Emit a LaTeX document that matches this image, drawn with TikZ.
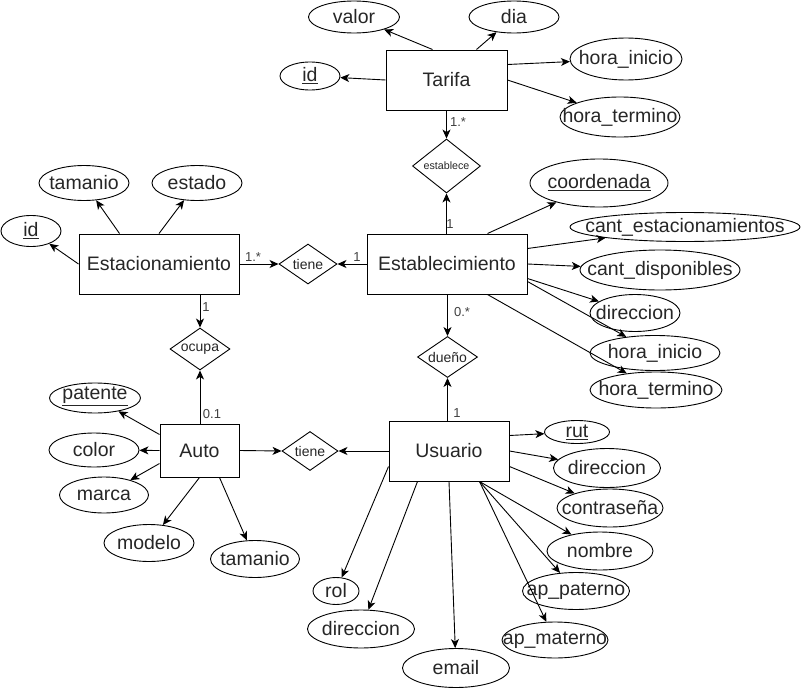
\documentclass[tikz,border=0pt]{standalone}
\usepackage{fontspec}
\setmainfont{Liberation Sans}
\usetikzlibrary{shapes.geometric,arrows.meta,calc}
\newcommand\attrnode[5]{%
  \node[attr, minimum width=#4, minimum height=#5] (#1) at (#2) {};
  \node[atext] at (#1.center) {#3};}
\newcommand\relnode[5]{%
  \node[rel, minimum width=#4, minimum height=#5] (#1) at (#2) {};
  \node[rtext] at (#1.center) {#3};}
\begin{document}
\begin{tikzpicture}[x=1pt,y=-1pt,
  ent/.style={draw, line width=1pt, rectangle, inner sep=0pt, font=\fontsize{19.5}{22}\selectfont, text=black!85},
  attr/.style={draw, line width=0.9pt, ellipse, inner sep=0pt},
  atext/.style={inner sep=0pt, font=\fontsize{19.5}{22}\selectfont, text=black!85},
  rel/.style={draw, line width=0.9pt, diamond, inner sep=0pt},
  rtext/.style={inner sep=0pt, font=\fontsize{14}{16}\selectfont, text=black!85},
  arr/.style={-{Stealth[length=9pt,width=8pt,inset=2.5pt]}, line width=0.9pt},
  card/.style={inner sep=0pt, font=\fontsize{13}{15}\selectfont, text=black!75}
]
\useasboundingbox (0,0) rectangle (801,688);

% entities
\node[ent, minimum width=121pt, minimum height=60pt] (tarifa) at (446.5,80) {Tarifa};
\node[ent, minimum width=160pt, minimum height=60pt] (estab) at (447,264) {Establecimiento};
\node[ent, minimum width=160pt, minimum height=60pt] (estac) at (159,264) {Estacionamiento};
\node[ent, minimum width=79pt, minimum height=53pt] (auto) at (199.5,450.5) {Auto};
\node[ent, minimum width=120pt, minimum height=60pt] (usuario) at (449,451) {Usuario};

% relationships
\relnode{establece}{446.5,166}{\fontsize{10.7}{12}\selectfont establece}{68pt}{54pt}
\relnode{tiene1}{308,264}{tiene}{58pt}{40pt}
\relnode{ocupa}{200,349}{ocupa}{60pt}{42pt}
\relnode{dueno}{447.5,357}{dueño}{60pt}{41pt}
\relnode{tiene2}{310,451}{tiene}{56pt}{39pt}

% Tarifa attributes
\attrnode{tval}{354,17}{valor}{91pt}{32pt}
\attrnode{tdia}{514,17}{dia}{90pt}{32pt}
\attrnode{tid}{310,76}{\underline{id}}{60pt}{28pt}
\attrnode{thi}{626,59}{hora\_inicio}{112pt}{42pt}
\attrnode{tht}{620,117}{hora\_termino}{120pt}{40pt}

% Establecimiento attributes
\attrnode{coord}{599,183}{\underline{coordenada}}{138pt}{48pt}
\attrnode{cest}{685,227}{cant\_estacionamientos}{230pt}{29pt}
\attrnode{cdisp}{660,270}{cant\_disponibles}{160pt}{40pt}
\attrnode{edir}{635,313}{direccion}{90pt}{37pt}
\attrnode{ehi}{655,353}{hora\_inicio}{130pt}{35pt}
\attrnode{eht}{656,390}{hora\_termino}{132pt}{36pt}

% Estacionamiento attributes
\attrnode{stam}{84,183}{tamanio}{90pt}{35pt}
\attrnode{sest}{197,183}{estado}{90pt}{35pt}
\attrnode{sid}{31,231}{\underline{id}}{60pt}{31pt}

% Auto attributes
\node[attr, minimum width=91pt, minimum height=30pt] (apat) at (95,398) {};
\node[atext] (apattext) at ($(apat.center)+(0,-2)$) {\underline{patente}};
\attrnode{acol}{94,450}{color}{90pt}{34pt}
\attrnode{amar}{104,495}{marca}{89pt}{36pt}
\attrnode{amod}{149,543}{modelo}{90pt}{37pt}
\attrnode{atam}{255,559}{tamanio}{89pt}{37pt}

% Usuario attributes
\attrnode{urut}{577,432}{\underline{rut}}{65pt}{23pt}
\attrnode{udir}{607,468}{direccion}{107pt}{39pt}
\attrnode{ucon}{610,508}{contraseña}{106pt}{38pt}
\attrnode{unom}{600,551}{nombre}{106pt}{38pt}
\attrnode{upat}{576,591}{ap\_paterno}{107pt}{37pt}
\attrnode{umat}{555,640}{ap\_materno}{106pt}{36pt}
\attrnode{uema}{456,668}{email}{107pt}{39pt}
\attrnode{urol}{336,591}{rol}{46pt}{27pt}
\attrnode{udir2}{361,629}{direccion}{107pt}{38pt}

% Tarifa connectors
\draw[arr] ($(tarifa.north west)+(47,0)$) -- (tval);
\draw[arr] ($(tarifa.north west)+(91,0)$) -- (tdia);
\draw[arr] (tarifa.west) -- (tid);
\draw[arr] ($(tarifa.north east)+(0,15)$) -- (thi);
\draw[arr] (tarifa.east) -- (tht);

% Establecimiento connectors
\draw[arr] ($(estab.north west)+(121,0)$) -- (coord);
\draw[arr] ($(estab.north east)+(0,15)$) -- (cest);
\draw[arr] (estab.east) -- (cdisp);
\draw[arr] ($(estab.north east)+(0,45)$) -- (edir);
\draw[arr] ($(estab.north east)+(0,48)$) -- (ehi);
\draw[arr] ($(estab.south west)+(121,0)$) -- (eht);

% Estacionamiento connectors
\draw[arr] ($(estac.north west)+(41,0)$) -- (stam);
\draw[arr] (estac.north) -- (sest);
\draw[arr] (estac.west) -- (sid);

% Auto connectors
\draw[arr] ($(auto.north west)+(0,11)$) -- (apat);
\draw[arr] (auto.west) -- (acol);
\draw[arr] ($(auto.north west)+(0,40)$) -- (amar);
\draw[arr] (auto.south) -- (amod);
\draw[arr] ($(auto.south west)+(60,0)$) -- (atam);

% Usuario connectors
\draw[arr] ($(usuario.north east)+(0,15)$) -- (urut);
\draw[arr] (usuario.east) -- (udir);
\draw[arr] ($(usuario.north east)+(0,46)$) -- (ucon);
\draw[arr] ($(usuario.south west)+(91,0)$) -- (unom);
\draw[arr] ($(usuario.south west)+(91,0)$) -- (upat);
\draw[arr] ($(usuario.south west)+(91,0)$) -- (umat);
\draw[arr] (usuario.south) -- (uema);
\draw[arr] ($(usuario.north west)+(0,46)$) -- (urol);
\draw[arr] ($(usuario.south west)+(29,0)$) -- (udir2);

% relationship connectors
\draw[arr] (establece.north |- tarifa.south) -- (establece.north);
\draw[arr] (establece.south |- estab.north) -- (establece.south);
\draw[arr] (estab.west) -- (tiene1.east);
\draw[arr] (estac.east) -- (tiene1.west);
\draw[arr] (ocupa.north |- estac.south) -- (ocupa.north);
\draw[arr] (ocupa.south |- auto.north) -- (ocupa.south);
\draw[arr] (dueno.north |- estab.south) -- (dueno.north);
\draw[arr] (dueno.south |- usuario.north) -- (dueno.south);
\draw[arr] (auto.east) -- (tiene2.west);
\draw[arr] (usuario.west) -- (tiene2.east);

% cardinalities
\node[card] (c1) at (458,122) {1.*};
\node[card] (c2) at (450,224) {1};
\node[card] (c3) at (462,312) {0.*};
\node[card] (c4) at (357,257) {1};
\node[card] (c5) at (253,257) {1.*};
\node[card] (c6) at (206,307) {1};
\node[card] (c7) at (212,414) {0.1};
\node[card] (c8) at (457,413) {1};
\end{tikzpicture}
\end{document}
